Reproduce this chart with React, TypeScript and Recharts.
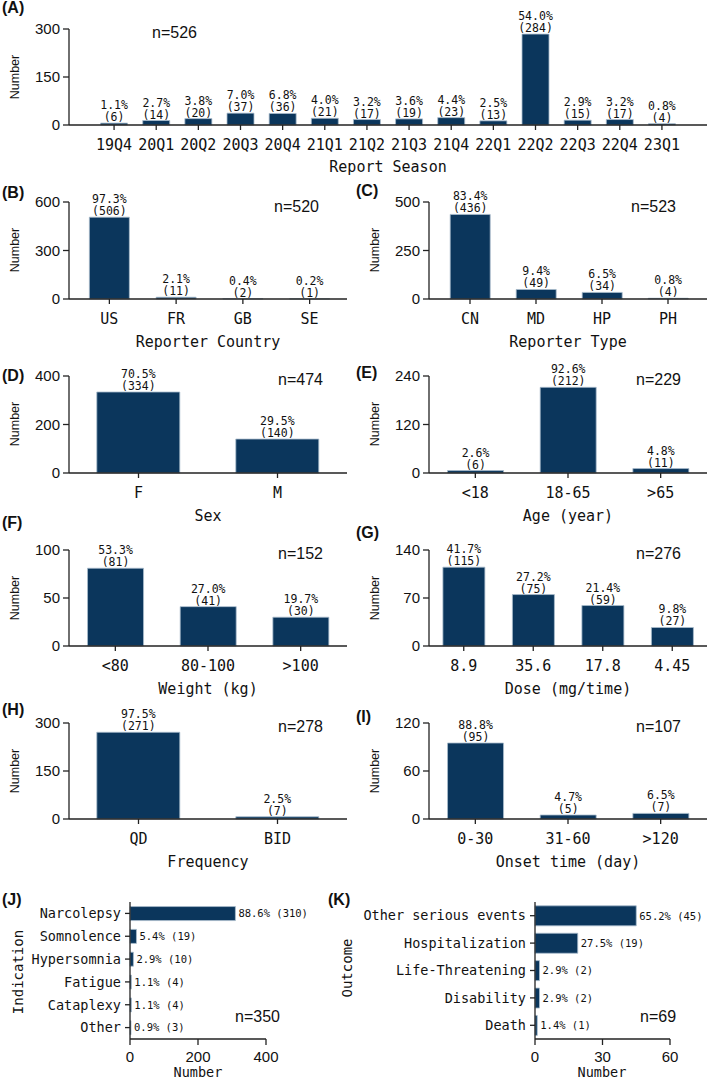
import React from "react";
import { BarChart, Bar, XAxis, YAxis, LabelList } from "recharts";

const NAVY = "#0b365c";
const EDGE = "#a9bccd";
const AXIS = "#222";
const INK = "#111";
const MONO = "'DejaVu Sans Mono', 'Liberation Mono', monospace";
const SANS = "'Liberation Sans', Arial, Helvetica, sans-serif";

// (A) report season
const seasons = ["19Q4", "20Q1", "20Q2", "20Q3", "20Q4", "21Q1", "21Q2", "21Q3", "21Q4", "22Q1", "22Q2", "22Q3", "22Q4", "23Q1"];
const seasonCounts = [6, 14, 20, 37, 36, 21, 17, 19, 23, 13, 284, 15, 17, 4];
const seasonPcts = ["1.1%", "2.7%", "3.8%", "7.0%", "6.8%", "4.0%", "3.2%", "3.6%", "4.4%", "2.5%", "54.0%", "2.9%", "3.2%", "0.8%"];

// (B) reporter country
const countries = ["US", "FR", "GB", "SE"];
const countryCounts = [506, 11, 2, 1];
const countryPcts = ["97.3%", "2.1%", "0.4%", "0.2%"];

// (C) reporter type
const reporterTypes = ["CN", "MD", "HP", "PH"];
const reporterCounts = [436, 49, 34, 4];
const reporterPcts = ["83.4%", "9.4%", "6.5%", "0.8%"];

// (D) sex
const sexes = ["F", "M"];
const sexCounts = [334, 140];
const sexPcts = ["70.5%", "29.5%"];

// (E) age
const ages = ["<18", "18-65", ">65"];
const ageCounts = [6, 212, 11];
const agePcts = ["2.6%", "92.6%", "4.8%"];

// (F) weight
const weights = ["<80", "80-100", ">100"];
const weightCounts = [81, 41, 30];
const weightPcts = ["53.3%", "27.0%", "19.7%"];

// (G) dose
const doses = ["8.9", "35.6", "17.8", "4.45"];
const doseCounts = [115, 75, 59, 27];
const dosePcts = ["41.7%", "27.2%", "21.4%", "9.8%"];

// (H) frequency
const freqs = ["QD", "BID"];
const freqCounts = [271, 7];
const freqPcts = ["97.5%", "2.5%"];

// (I) onset time
const onsets = ["0-30", "31-60", ">120"];
const onsetCounts = [95, 5, 7];
const onsetPcts = ["88.8%", "4.7%", "6.5%"];

// (J) indication
const indications = ["Narcolepsy", "Somnolence", "Hypersomnia", "Fatigue", "Cataplexy", "Other"];
const indicationCounts = [310, 19, 10, 4, 4, 3];
const indicationPcts = ["88.6%", "5.4%", "2.9%", "1.1%", "1.1%", "0.9%"];

// (K) outcome
const outcomes = ["Other serious events", "Hospitalization", "Life-Threatening", "Disability", "Death"];
const outcomeCounts = [45, 19, 2, 2, 1];
const outcomePcts = ["65.2%", "27.5%", "2.9%", "2.9%", "1.4%"];

type Row = { cat: string; count: number; pct: string; cnt: string; both: string };

const rows = (cats: string[], counts: number[], pcts: string[]): Row[] =>
  cats.map((c, i) => ({
    cat: c,
    count: counts[i],
    pct: pcts[i],
    cnt: `(${counts[i]})`,
    both: `${pcts[i]} (${counts[i]})`,
  }));

const axisStyle = { stroke: AXIS, strokeWidth: 1.3 };

// label drawn above a vertical bar, `lift` px above its top
const topText = (lift: number) => (p: any) => {
  const v = p.viewBox || p;
  const x = Number(v.x ?? p.x) + Number(v.width ?? p.width) / 2;
  const y = Number(v.y ?? p.y) - lift;
  return (
    <text x={x} y={y} textAnchor="middle" fill={INK} fontFamily={MONO} fontSize={11.5}>
      {p.value}
    </text>
  );
};

// label drawn right of a horizontal bar
const sideText = (p: any) => {
  const v = p.viewBox || p;
  const x = Number(v.x ?? p.x) + Number(v.width ?? p.width) + 3;
  const y = Number(v.y ?? p.y) + Number(v.height ?? p.height) / 2;
  return (
    <text x={x} y={y} dy="0.35em" fill={INK} fontFamily={MONO} fontSize={10.5}>
      {p.value}
    </text>
  );
};

function T({ x, y, children, size = 15, font = SANS, bold = false, anchor = "start", rotate = false }: any) {
  const tx = anchor === "middle" ? "-50%" : "0";
  return (
    <div
      style={{
        position: "absolute",
        left: x,
        top: y,
        transform: rotate ? "translate(-50%,-50%) rotate(-90deg)" : `translate(${tx},-50%)`,
        fontFamily: font,
        fontSize: size,
        fontWeight: bold ? 700 : 400,
        color: INK,
        lineHeight: 1,
        whiteSpace: "nowrap",
      }}
    >
      {children}
    </div>
  );
}

function VPanel({ data, x0, left, right, top, bottom, max, ticks, pad = [0, 0], gap = "20%" }: any) {
  const boxTop = top - 30;
  const w = right - x0 + 2;
  const h = bottom - boxTop + 30;
  return (
    <div style={{ position: "absolute", left: x0, top: boxTop }}>
      <BarChart width={w} height={h} data={data} margin={{ top: 30, right: 2, left: 0, bottom: 0 }} barCategoryGap={gap}>
        <XAxis
          dataKey="cat"
          interval={0}
          height={30}
          padding={{ left: pad[0], right: pad[1] }}
          tickSize={5}
          tickMargin={9}
          axisLine={axisStyle}
          tickLine={axisStyle}
          tick={{ fontFamily: MONO, fontSize: 15, fill: INK }}
        />
        <YAxis
          width={left - x0}
          domain={[0, max]}
          ticks={ticks}
          tickSize={6}
          tickMargin={3}
          axisLine={axisStyle}
          tickLine={axisStyle}
          tick={{ fontFamily: SANS, fontSize: 15, fill: INK }}
        />
        <Bar dataKey="count" fill={NAVY} stroke={EDGE} strokeWidth={0.8} isAnimationActive={false}>
          <LabelList dataKey="pct" content={topText(14)} />
          <LabelList dataKey="cnt" content={topText(2)} />
        </Bar>
      </BarChart>
    </div>
  );
}

function HPanel({ data, x0, left, right, x1, top, bottom, max, ticks, gap = "20%" }: any) {
  const boxTop = top - 6;
  const w = x1 - x0;
  const h = 1082 - boxTop;
  return (
    <div style={{ position: "absolute", left: x0, top: boxTop }}>
      <BarChart
        layout="vertical"
        width={w}
        height={h}
        data={data}
        margin={{ top: 6, right: x1 - right, left: 0, bottom: 0 }}
        barCategoryGap={gap}
      >
        <XAxis
          type="number"
          domain={[0, max]}
          ticks={ticks}
          height={1082 - bottom}
          tickSize={6}
          tickMargin={6}
          axisLine={axisStyle}
          tickLine={axisStyle}
          tick={{ fontFamily: SANS, fontSize: 15, fill: INK }}
        />
        <YAxis
          type="category"
          dataKey="cat"
          interval={0}
          width={left - x0}
          tickSize={5}
          tickMargin={4}
          axisLine={axisStyle}
          tickLine={axisStyle}
          tick={{ fontFamily: MONO, fontSize: 13.5, fill: INK }}
        />
        <Bar dataKey="count" fill={NAVY} stroke={EDGE} strokeWidth={0.8} isAnimationActive={false}>
          <LabelList dataKey="both" content={sideText} />
        </Bar>
      </BarChart>
    </div>
  );
}

const L = 69;
const R = 429;
const LR = 347;
const RR = 707;

export default function App() {
  return (
    <div style={{ position: "absolute", left: 0, top: 0, width: 709, height: 1082, background: "#fff", overflow: "hidden" }}>
      {/* A */}
      <VPanel data={rows(seasons, seasonCounts, seasonPcts)} x0={0} left={L} right={RR} top={29} bottom={125} max={300} ticks={[0, 150, 300]} pad={[24, 24]} gap="18%" />
      <T x={2} y={8} bold size={16}>(A)</T>
      <T x={152} y={33} size={16}>n=526</T>
      <T x={15} y={77} size={12.5} rotate>Number</T>
      <T x={(L + RR) / 2} y={167} font={MONO} anchor="middle">Report Season</T>

      {/* B */}
      <VPanel data={rows(countries, countryCounts, countryPcts)} x0={0} left={L} right={LR} top={202} bottom={299} max={600} ticks={[0, 300, 600]} pad={[7, 4]} />
      <T x={2} y={193} bold size={16}>(B)</T>
      <T x={274} y={207} size={16}>n=520</T>
      <T x={15} y={250} size={12.5} rotate>Number</T>
      <T x={(L + LR) / 2} y={342} font={MONO} anchor="middle">Reporter Country</T>

      {/* C */}
      <VPanel data={rows(reporterTypes, reporterCounts, reporterPcts)} x0={360} left={R} right={RR} top={202} bottom={299} max={500} ticks={[0, 250, 500]} pad={[8, 6]} />
      <T x={356} y={191} bold size={16}>(C)</T>
      <T x={631} y={207} size={16}>n=523</T>
      <T x={375} y={250} size={12.5} rotate>Number</T>
      <T x={(R + RR) / 2} y={342} font={MONO} anchor="middle">Reporter Type</T>

      {/* D */}
      <VPanel data={rows(sexes, sexCounts, sexPcts)} x0={0} left={L} right={LR} top={376} bottom={473} max={400} ticks={[0, 200, 400]} />
      <T x={2} y={376} bold size={16}>(D)</T>
      <T x={278} y={380} size={16}>n=474</T>
      <T x={15} y={424} size={12.5} rotate>Number</T>
      <T x={(L + LR) / 2} y={516} font={MONO} anchor="middle">Sex</T>

      {/* E */}
      <VPanel data={rows(ages, ageCounts, agePcts)} x0={360} left={R} right={RR} top={376} bottom={473} max={240} ticks={[0, 120, 240]} />
      <T x={356} y={373} bold size={16}>(E)</T>
      <T x={636} y={380} size={16}>n=229</T>
      <T x={375} y={424} size={12.5} rotate>Number</T>
      <T x={(R + RR) / 2} y={516} font={MONO} anchor="middle">Age (year)</T>

      {/* F */}
      <VPanel data={rows(weights, weightCounts, weightPcts)} x0={0} left={L} right={LR} top={550} bottom={646} max={100} ticks={[0, 50, 100]} />
      <T x={2} y={523} bold size={16}>(F)</T>
      <T x={278} y={554} size={16}>n=152</T>
      <T x={15} y={598} size={12.5} rotate>Number</T>
      <T x={(L + LR) / 2} y={689} font={MONO} anchor="middle">Weight (kg)</T>

      {/* G */}
      <VPanel data={rows(doses, doseCounts, dosePcts)} x0={360} left={R} right={RR} top={550} bottom={646} max={140} ticks={[0, 70, 140]} />
      <T x={356} y={533} bold size={16}>(G)</T>
      <T x={636} y={554} size={16}>n=276</T>
      <T x={375} y={598} size={12.5} rotate>Number</T>
      <T x={(R + RR) / 2} y={689} font={MONO} anchor="middle">Dose (mg/time)</T>

      {/* H */}
      <VPanel data={rows(freqs, freqCounts, freqPcts)} x0={0} left={L} right={LR} top={723} bottom={819} max={300} ticks={[0, 150, 300]} />
      <T x={2} y={710} bold size={16}>(H)</T>
      <T x={278} y={727} size={16}>n=278</T>
      <T x={15} y={771} size={12.5} rotate>Number</T>
      <T x={(L + LR) / 2} y={862} font={MONO} anchor="middle">Frequency</T>

      {/* I */}
      <VPanel data={rows(onsets, onsetCounts, onsetPcts)} x0={360} left={R} right={RR} top={723} bottom={819} max={120} ticks={[0, 60, 120]} />
      <T x={356} y={717} bold size={16}>(I)</T>
      <T x={636} y={727} size={16}>n=107</T>
      <T x={375} y={771} size={12.5} rotate>Number</T>
      <T x={(R + RR) / 2} y={862} font={MONO} anchor="middle">Onset time (day)</T>

      {/* J */}
      <HPanel data={rows(indications, indicationCounts, indicationPcts)} x0={0} left={130} right={266} x1={330} top={902} bottom={1039} max={400} ticks={[0, 200, 400]} gap="20%" />
      <T x={2} y={900} bold size={16}>(J)</T>
      <T x={235} y={1017} size={16}>n=350</T>
      <T x={18} y={972} size={14} font={MONO} rotate>Indication</T>
      <T x={198} y={1073} size={13.5} font={MONO} anchor="middle">Number</T>

      {/* K */}
      <HPanel data={rows(outcomes, outcomeCounts, outcomePcts)} x0={340} left={535} right={670} x1={709} top={902} bottom={1039} max={60} ticks={[0, 30, 60]} gap="14%" />
      <T x={328} y={900} bold size={16}>(K)</T>
      <T x={640} y={1017} size={16}>n=69</T>
      <T x={347} y={968} size={14} font={MONO} rotate>Outcome</T>
      <T x={602} y={1073} size={13.5} font={MONO} anchor="middle">Number</T>
    </div>
  );
}
